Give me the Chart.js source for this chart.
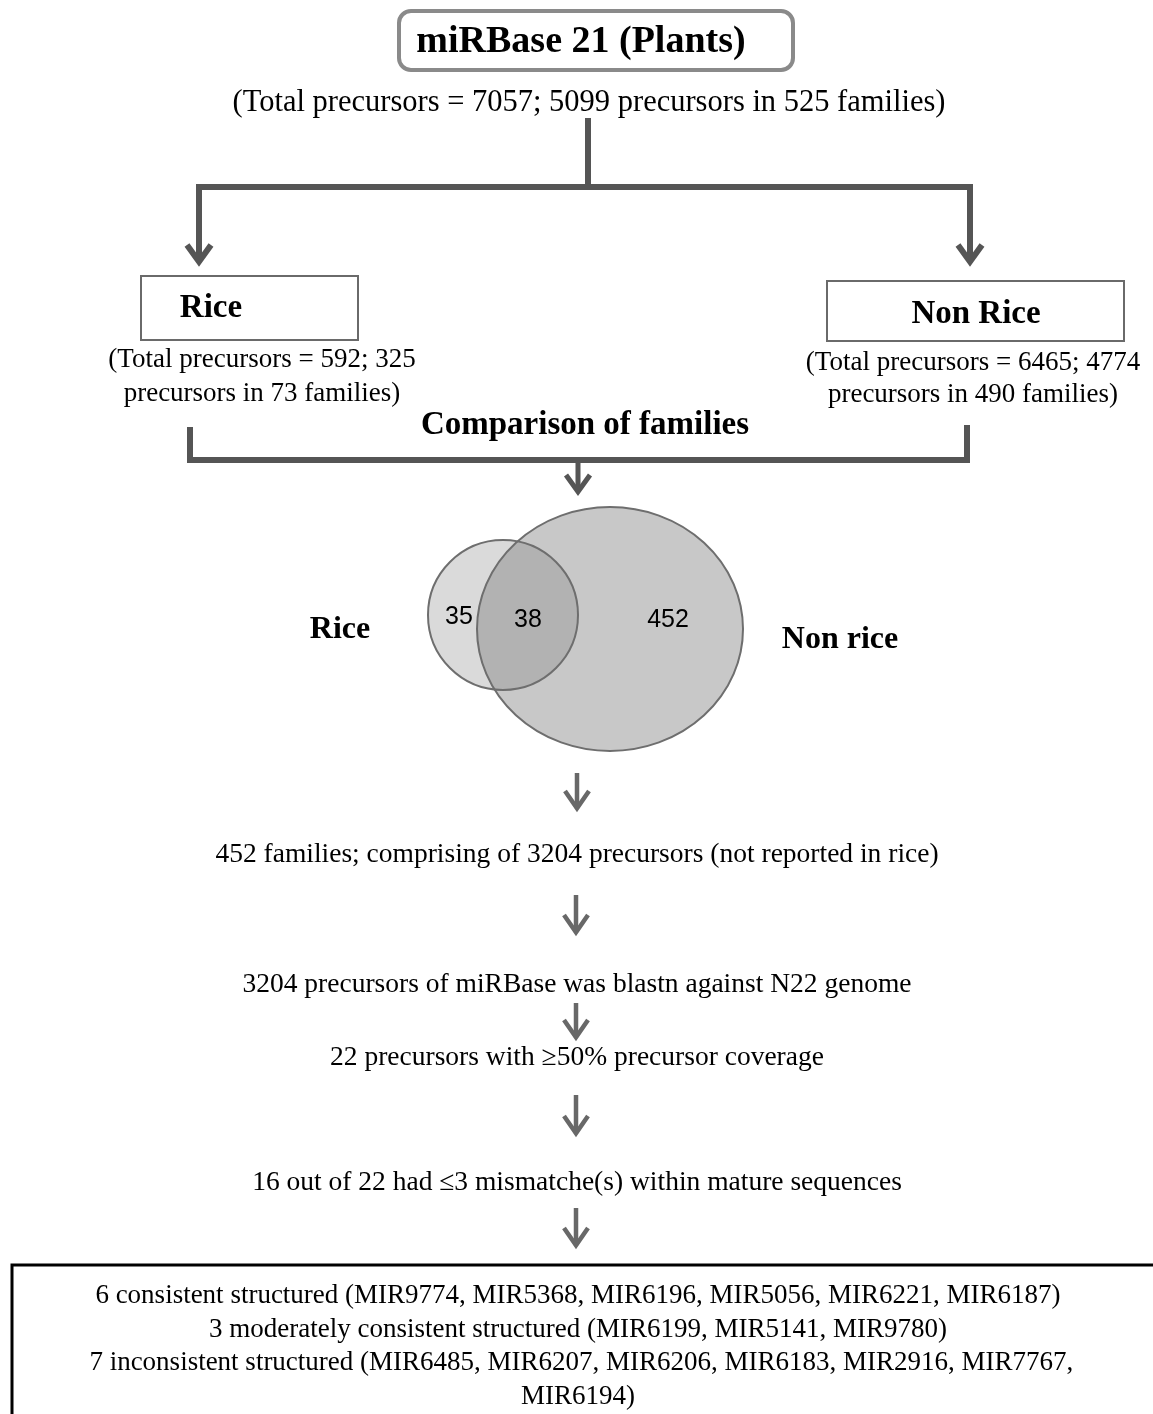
<!DOCTYPE html>
<html><head><meta charset="utf-8">
<script src="https://cdn.jsdelivr.net/npm/chart.js@4.4.1/dist/chart.umd.min.js"></script>
<style>html,body{margin:0;padding:0;background:#fff;}#wrap{width:1153px;height:1414px;position:relative;}</style>
</head><body><div id="wrap"><canvas id="c" width="1153" height="1414"></canvas></div>
<script>
// ---------- content ----------
const sourceTitle = "miRBase 21 (Plants)";
const sourceNote = "(Total precursors = 7057; 5099 precursors in 525 families)";
const groupNames = ["Rice", "Non Rice"];
const riceNote = ["(Total precursors = 592; 325", "precursors in 73 families)"];
const nonRiceNote = ["(Total precursors = 6465; 4774", "precursors in 490 families)"];
const comparisonTitle = "Comparison of families";
const vennSetLabels = ["Rice", "Non rice"];
const vennCounts = [35, 38, 452];   // rice only, shared, non-rice only
const flowSteps = [
  "452 families; comprising of 3204 precursors (not reported in rice)",
  "3204 precursors of miRBase was blastn against N22 genome",
  "22 precursors with \u226550% precursor coverage",
  "16 out of 22 had \u22643 mismatche(s) within mature sequences"
];
const resultLines = [
  "6 consistent structured (MIR9774, MIR5368, MIR6196, MIR5056, MIR6221, MIR6187)",
  "3 moderately consistent structured (MIR6199, MIR5141, MIR9780)",
  " 7 inconsistent structured (MIR6485, MIR6207, MIR6206, MIR6183, MIR2916, MIR7767,",
  "MIR6194)"
];

// ---------- layout (drawing units = page pixels) ----------
const L = {
  topBox: {x0: 399, y0: 11, x1: 793, y1: 70, r: 12},
  riceBox: {x0: 141, y0: 276, x1: 358, y1: 340},
  nonRiceBox: {x0: 827, y0: 281, x1: 1124, y1: 341},
  resultBox: {x0: 12, y0: 1265, x1: 1160, y1: 1420},
  trunk: [[588,118],[588,187]],
  split: [[196,187],[973,187]],
  bigArrows: [{x: 199, y0: 187, tip: 268}, {x: 970, y0: 187, tip: 268}],
  bracket: [[190,427],[190,460],[967,460],[967,425]],
  midArrow: {x: 578, y0: 460, tip: 497},
  smallArrows: [{x:577,y0:773,tip:813},{x:576,y0:895,tip:937},{x:576,y0:1003,tip:1042},{x:576,y0:1095,tip:1138},{x:576,y0:1208,tip:1250}],
  small: {cx: 503, cy: 615, r: 75},
  large: {cx: 610, cy: 629, rx: 133, ry: 122},
  countPos: [[459,617],[528,620],[668,620]],
  setLabelPos: [[340,630],[840,640]],
  stepY: [855, 985, 1058, 1183],
  resultY: [1296, 1330, 1363, 1397]
};

const DARK = '#555555', MID = '#686868';
const datasets = [];
function seg(pts, color, w) {
  datasets.push({type:'line', data: pts.map(p => ({x:p[0], y:p[1]})), showLine:true,
    borderColor: color, borderWidth: w, pointRadius: 0, fill: false, tension: 0,
    borderJoinStyle: 'miter', borderCapStyle: 'butt'});
}
function arrow(a, color, w, hw, hh) {
  const off = w * 1.05;
  seg([[a.x, a.y0], [a.x, a.tip - off]], color, w);
  seg([[a.x - hw, a.tip - hh], [a.x, a.tip - off], [a.x + hw, a.tip - hh]], color, w);
}
seg(L.trunk, DARK, 6);
seg(L.split, DARK, 6);
L.bigArrows.forEach(a => arrow(a, DARK, 6, 12, 23));
seg(L.bracket, DARK, 6);
arrow(L.midArrow, DARK, 5, 12, 22);
L.smallArrows.forEach(a => arrow(a, MID, 4.5, 12, 22));

const SERIF = '"Liberation Serif", "Times New Roman", serif';
const drawPlugin = {
  id: 'flow',
  beforeDatasetsDraw(chart) {
    const ctx = chart.ctx, xs = chart.scales.x, ys = chart.scales.y;
    const X = v => xs.getPixelForValue(v), Y = v => ys.getPixelForValue(v);
    ctx.save();
    const t = L.topBox;
    ctx.beginPath();
    ctx.roundRect(X(t.x0), Y(t.y0), X(t.x1) - X(t.x0), Y(t.y1) - Y(t.y0), t.r);
    ctx.lineWidth = 4; ctx.strokeStyle = '#8a8a8a'; ctx.stroke();
    [L.riceBox, L.nonRiceBox].forEach(b => {
      ctx.beginPath();
      ctx.rect(X(b.x0), Y(b.y0), X(b.x1) - X(b.x0), Y(b.y1) - Y(b.y0));
      ctx.lineWidth = 2; ctx.strokeStyle = '#6a6a6a'; ctx.stroke();
    });
    const r = L.resultBox;
    ctx.beginPath();
    ctx.rect(X(r.x0), Y(r.y0), X(r.x1) - X(r.x0), Y(r.y1) - Y(r.y0));
    ctx.lineWidth = 3; ctx.strokeStyle = '#000'; ctx.stroke();
    const s = L.small, g = L.large;
    ctx.beginPath();
    ctx.ellipse(X(s.cx), Y(s.cy), X(s.cx + s.r) - X(s.cx), Y(s.cy + s.r) - Y(s.cy), 0, 0, Math.PI * 2);
    ctx.fillStyle = '#dadada'; ctx.fill();
    ctx.beginPath();
    ctx.ellipse(X(g.cx), Y(g.cy), X(g.cx + g.rx) - X(g.cx), Y(g.cy + g.ry) - Y(g.cy), 0, 0, Math.PI * 2);
    ctx.fillStyle = 'rgba(119,119,119,0.405)'; ctx.fill();
    ctx.lineWidth = 2; ctx.strokeStyle = '#6e6e6e'; ctx.stroke();
    ctx.beginPath();
    ctx.ellipse(X(s.cx), Y(s.cy), X(s.cx + s.r) - X(s.cx), Y(s.cy + s.r) - Y(s.cy), 0, 0, Math.PI * 2);
    ctx.stroke();
    ctx.restore();
  },
  afterDatasetsDraw(chart) {
    const ctx = chart.ctx, xs = chart.scales.x, ys = chart.scales.y;
    const X = v => xs.getPixelForValue(v), Y = v => ys.getPixelForValue(v);
    ctx.save();
    ctx.textAlign = 'center'; ctx.textBaseline = 'middle'; ctx.fillStyle = '#000';
    const txt = (s, x, y, font) => { ctx.font = font; ctx.fillText(s, X(x), Y(y)); };
    txt(sourceTitle, 581, 42, 'bold 38px ' + SERIF);
    txt(sourceNote, 589, 103, '30.5px ' + SERIF);
    txt(groupNames[0], 211, 308, 'bold 33px ' + SERIF);
    txt(groupNames[1], 976, 314, 'bold 33px ' + SERIF);
    txt(riceNote[0], 262, 360, '27px ' + SERIF);
    txt(riceNote[1], 262, 394, '27px ' + SERIF);
    txt(nonRiceNote[0], 973, 363, '27px ' + SERIF);
    txt(nonRiceNote[1], 973, 395, '27px ' + SERIF);
    txt(comparisonTitle, 585, 425, 'bold 33px ' + SERIF);
    vennCounts.forEach((c, i) => txt(String(c), L.countPos[i][0], L.countPos[i][1], '25px "Liberation Sans", Arial, sans-serif'));
    vennSetLabels.forEach((s, i) => txt(s, L.setLabelPos[i][0], L.setLabelPos[i][1], 'bold 32px ' + SERIF));
    flowSteps.forEach((s, i) => txt(s, 577, L.stepY[i], '27.5px ' + SERIF));
    resultLines.forEach((s, i) => txt(s, 578, L.resultY[i], '27px ' + SERIF));
    ctx.restore();
  }
};

new Chart(document.getElementById('c'), {
  type: 'scatter',
  data: { datasets },
  options: {
    responsive: false, animation: false, devicePixelRatio: 1,
    layout: { padding: 0 },
    plugins: { legend: { display: false }, tooltip: { enabled: false } },
    scales: {
      x: { type: 'linear', min: 0, max: 1153, display: false },
      y: { type: 'linear', min: 0, max: 1414, reverse: true, display: false }
    }
  },
  plugins: [drawPlugin]
});
</script></body></html>
